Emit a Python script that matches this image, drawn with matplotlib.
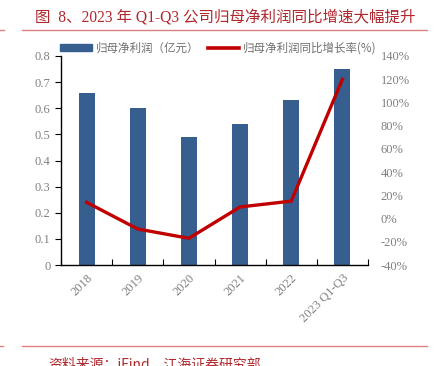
import numpy as np
import matplotlib.pyplot as plt
from matplotlib.patches import Patch
from matplotlib.lines import Line2D

years = ["2018", "2019", "2020", "2021", "2022", "2023 Q1-Q3"]
profit = [0.66, 0.60, 0.49, 0.54, 0.63, 0.75]          # 亿元
growth = [14, -9, -17, 10, 15, 120]                     # %

bar_color = "#365e8e"
line_color = "#c00000"
red_text = "#b0282e"
gray = "#808080"
fonts = ["Liberation Serif", "Noto Sans CJK SC"]
cjk = ["Noto Sans CJK SC", "DejaVu Sans"]

fig = plt.figure(figsize=(4.34, 3.66), dpi=100)
ax = fig.add_axes([61 / 434, 1 - 265 / 366, 307 / 434, 209 / 366])
ax2 = ax.twinx()

x = np.arange(len(years))
ax.bar(x, profit, width=0.31, color=bar_color, zorder=2)
ax2.plot(x, growth, color=line_color, lw=2.4, zorder=3)

ax.set_xlim(-0.5, len(years) - 0.5)
ax.set_ylim(0, 0.8)
ax.set_yticks(np.arange(0, 0.81, 0.1))
ax.set_yticklabels(["0"] + [f"{v:.1f}" for v in np.arange(0.1, 0.81, 0.1)])
ax2.set_ylim(-40, 140)
ax2.set_yticks(np.arange(-40, 141, 20))
ax2.set_yticklabels([f"{v}%" for v in range(-40, 141, 20)])

ax.set_xticks(np.arange(-0.5, len(years), 1.0))
ax.set_xticklabels([])
ax.tick_params(axis="x", direction="in", length=4, color="black")
ax.set_xticks(x, minor=True)
ax.set_xticklabels(years, minor=True, rotation=45, ha="right", rotation_mode="anchor",
                   fontsize=9, color=gray, family=fonts)
ax.tick_params(axis="x", which="minor", length=0, pad=5)
ax.tick_params(axis="y", direction="out", length=4, labelsize=9, labelcolor=gray)
ax2.tick_params(axis="y", length=0, labelsize=9, labelcolor=gray, pad=9)
for lab in ax.get_yticklabels() + ax2.get_yticklabels():
    lab.set_family(fonts)

for s in ["top", "right"]:
    ax.spines[s].set_visible(False)
for s in ["top", "right", "left", "bottom"]:
    ax2.spines[s].set_visible(False)
ax.spines["left"].set_linewidth(1.0)
ax.spines["bottom"].set_linewidth(1.0)

handles = [Patch(color=bar_color), Line2D([], [], color=line_color, lw=2.6)]
leg = fig.legend(handles, ["归母净利润（亿元）", "归母净利润同比增长率(%)"],
                 loc="center left", bbox_to_anchor=(50 / 434, 1 - 48 / 366), ncol=2,
                 frameon=False, handlelength=2.7, handleheight=0.6, handletextpad=0.4,
                 columnspacing=0.7, prop={"family": cjk, "size": 8.3})
for t in leg.get_texts():
    t.set_color("#707070")

fig.text(35 / 434, 1 - 17 / 366, "图  8、2023 年 Q1-Q3 公司归母净利润同比增速大幅提升",
         fontsize=11.2, color=red_text, family=fonts, va="center")
fig.add_artist(Line2D([22 / 434, 427 / 434], [1 - 30 / 366] * 2, color="#d98080", lw=1))
fig.add_artist(Line2D([0, 4 / 434], [1 - 30 / 366] * 2, color="#d98080", lw=1))
fig.add_artist(Line2D([22 / 434, 427 / 434], [1 - 346 / 366] * 2, color="#e08080", lw=1))
fig.add_artist(Line2D([0, 3 / 434], [1 - 346 / 366] * 2, color="#e08080", lw=1))
fig.text(48 / 434, 1 - 364 / 366, "资料来源：iFind，江海证券研究部", fontsize=10,
         color=red_text, family=cjk, va="center")

fig.savefig("out.png", dpi=100)
